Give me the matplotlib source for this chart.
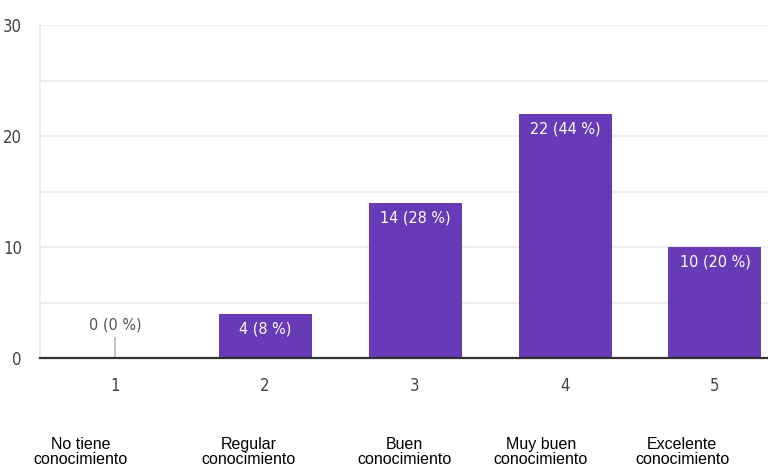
import matplotlib.pyplot as plt
from matplotlib import font_manager
import matplotlib.transforms as mtransforms

categories = [1, 2, 3, 4, 5]
counts = [0, 4, 14, 22, 10]
percents = [0, 8, 28, 44, 20]
descriptions = ["No tiene\nconocimiento", "Regular\nconocimiento", "Buen\nconocimiento",
                "Muy buen\nconocimiento", "Excelente\nconocimiento"]
desc_x = [0.77, 1.89, 2.93, 3.84, 4.78]
yticks = [0, 10, 20, 30]

fams = sorted({(f.name, f.stretch) for f in font_manager.fontManager.ttflist})
print(fams)

fig = plt.figure(figsize=(7.68, 4.67), dpi=100)
ax = fig.add_axes([40/768, 109/467, 750/768, 333/467])

bar_color = '#673AB7'
ax.bar(categories, counts, width=0.62, color=bar_color, zorder=3)

ax.set_xlim(0.5, 5.5)
ax.set_ylim(0, 30)
ax.set_yticks(yticks)
ax.set_yticks([5, 15, 25], minor=True)
ax.grid(axis='y', which='both', color='#ebebeb', linewidth=1.2, zorder=0)
ax.set_xticks(categories)
ax.set_xticklabels([str(c) for c in categories])

for lab in ax.get_xticklabels() + ax.get_yticklabels():
    lab.set_family('DejaVu Sans')
    lab.set_stretch('condensed')
    lab.set_fontsize(12)
    lab.set_color('#444444')
ax.tick_params(axis='both', which='both', length=0)
ax.tick_params(axis='y', pad=13)
ax.tick_params(axis='x', pad=14)

for s in ['top', 'right']:
    ax.spines[s].set_visible(False)
ax.spines['left'].set_color('#ebebeb')
ax.spines['left'].set_linewidth(1.2)
ax.spines['bottom'].set_color('#333333')
ax.spines['bottom'].set_linewidth(1.6)
ax.spines['bottom'].set_zorder(5)

for c, n, p in zip(categories, counts, percents):
    txt = f"{n} ({p} %)"
    if n == 0:
        ax.vlines(c, 0, 1.9, color='#bbbbbb', linewidth=1.2, zorder=4)
        ax.annotate(txt, (c, n), xytext=(0, 24), textcoords='offset points',
                    ha='center', va='center', color='#555555', fontsize=11.5,
                    family='DejaVu Sans', stretch='condensed')
    else:
        ax.annotate(txt, (c, n), xytext=(0, -11), textcoords='offset points',
                    ha='center', va='center', color='white', fontsize=11.5,
                    family='DejaVu Sans', stretch='condensed', zorder=6)

trans = mtransforms.blended_transform_factory(ax.transData, ax.transAxes)
for x, d in zip(desc_x, descriptions):
    ax.text(x, -0.282, d, transform=trans, ha='center', va='center',
            fontsize=11.5, family=['Liberation Sans', 'DejaVu Sans'], color='black',
            linespacing=1.0)

fig.savefig('out.png', dpi=100)
